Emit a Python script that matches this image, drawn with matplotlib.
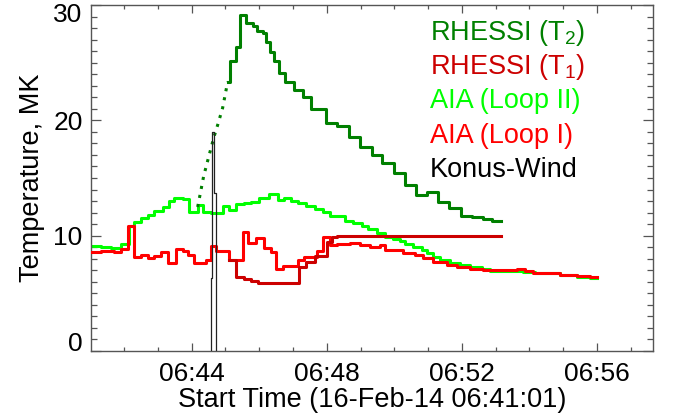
import matplotlib
matplotlib.use("Agg")
import matplotlib.pyplot as plt
import matplotlib.ticker as mticker
import matplotlib.transforms as mtransforms
import numpy as np

plt.rcParams["font.family"] = ["Liberation Sans", "DejaVu Sans"]
plt.rcParams["mathtext.fontset"] = "custom"
plt.rcParams["mathtext.rm"] = "Liberation Sans"
plt.rcParams["mathtext.it"] = "Liberation Sans"

# ── Data (time = minutes after 06:40 UT, temperature in MK) ─────────────────

T_START = 1.017   # 06:41:01
T_STOP = 17.66

# AIA loop II: step start times / values
aia2_t = [1.017, 1.310, 1.606, 1.901, 2.138, 2.286, 2.492, 2.699, 2.877, 3.143,
          3.320, 3.468, 3.734, 3.911, 4.177, 4.325, 4.562, 4.916, 5.094, 5.301,
          5.537, 5.744, 5.980, 6.276, 6.542, 6.720, 6.926, 7.133, 7.370, 7.665,
          7.902, 8.109, 8.552, 8.789, 9.055, 9.232, 9.498, 9.735, 9.971, 10.178,
          10.326, 10.562, 10.828, 10.976, 11.153, 11.360, 11.656, 11.951, 12.247, 12.602,
          12.838, 13.814, 14.169, 14.908, 15.410, 15.794]
aia2_T = [9.11, 9.02, 8.93, 9.28, 10.84, 11.19, 11.54, 11.80, 12.14, 12.49,
          13.01, 13.27, 13.18, 12.06, 12.66, 12.06, 11.97, 12.58, 12.23, 12.75,
          12.84, 12.92, 13.27, 13.62, 13.10, 13.27, 13.01, 12.84, 12.58, 12.32,
          12.06, 11.71, 11.27, 11.10, 10.84, 10.58, 10.23, 9.89, 9.71, 9.54,
          9.28, 9.02, 8.76, 8.50, 8.15, 7.89, 7.63, 7.46, 7.29, 7.11,
          6.94, 6.85, 6.77, 6.59, 6.42, 6.33]
aia2_end = 16.0

# AIA loop I
aia1_t = [1.017, 1.310, 1.694, 1.901, 2.108, 2.286, 2.492, 2.699, 2.877, 3.084,
          3.291, 3.527, 3.734, 3.882, 4.059, 4.414, 4.562, 4.709, 5.094, 5.508,
          5.655, 5.892, 6.128, 6.335, 6.483, 6.690, 7.133, 7.311, 7.724, 7.902,
          8.109, 8.316, 8.700, 8.996, 9.291, 9.587, 9.735, 10.267, 10.621, 10.858,
          11.153, 11.567, 11.863, 12.247, 12.631, 13.636, 13.873, 14.109, 14.908, 15.410,
          15.794]
aia1_T = [8.59, 8.67, 8.59, 8.85, 10.84, 8.15, 8.33, 8.07, 8.24, 8.59,
          7.63, 8.85, 8.67, 8.33, 7.63, 7.89, 9.11, 8.67, 7.89, 10.32,
          9.37, 9.80, 8.93, 8.59, 7.11, 7.37, 7.89, 8.15, 8.67, 9.89,
          9.19, 9.28, 9.37, 9.19, 9.02, 9.19, 8.76, 8.50, 8.33, 8.07,
          7.72, 7.46, 7.29, 7.11, 7.03, 7.11, 6.94, 6.77, 6.59, 6.50,
          6.42]
aia1_end = 16.0

# RHESSI T1
t1_t = [5.094, 5.301, 5.537, 5.744, 5.951, 7.163, 7.370, 7.665, 8.020, 8.168, 8.316]
t1_T = [7.89, 6.42, 6.24, 6.07, 5.90, 7.29, 7.72, 8.24, 9.45, 9.89, 9.97]
t1_end = 13.163

# RHESSI T2: dotted rise, then steps
t2_rise_t = [4.177, 4.355, 4.503, 4.650, 4.769, 4.916, 5.064]
t2_rise_T = [12.49, 15.18, 16.83, 18.47, 19.60, 21.08, 23.33]
t2_t = [5.064, 5.123, 5.301, 5.419, 5.596, 5.803, 5.921, 6.099, 6.187, 6.306,
        6.424, 6.572, 6.749, 7.015, 7.281, 7.547, 7.991, 8.316, 8.670, 8.996,
        9.350, 9.646, 10.001, 10.326, 10.651, 10.976, 11.301, 11.626, 11.981, 12.306,
        12.631, 12.897]
t2_T = [23.33, 25.15, 26.37, 29.14, 28.45, 28.19, 27.75, 27.58, 26.80, 25.93,
        25.15, 24.11, 23.33, 22.64, 22.03, 20.99, 19.77, 19.51, 18.56, 17.69,
        17.00, 16.31, 15.44, 14.40, 13.53, 13.79, 12.92, 12.40, 11.71, 11.62,
        11.45, 11.27]
t2_end = 13.163

# Konus-Wind spike
konus_t = [4.562, 4.591, 4.659]
konus_T = [6.3, 19.0, 13.7]
konus_end = 4.709

xtick_pos = [4, 8, 12, 16]
xtick_labels = ["06:44", "06:48", "06:52", "06:56"]

DKGREEN = "#008000"
DKRED = "#cc0000"
LIME = "#00ff00"
RED = "#ff0000"
FS = 19.5


def steps(t, v, end):
    return list(t) + [end], list(v) + [v[-1]]


fig = plt.figure(figsize=(6.78, 4.18), dpi=100)
ax = fig.add_axes([0.1342, 0.1603, 0.8289, 0.8278])

lw = 2.2
x, y = steps(aia2_t, aia2_T, aia2_end)
ax.step(x, y, where="post", color=LIME, lw=lw, zorder=2)
x, y = steps(aia1_t, aia1_T, aia1_end)
ax.step(x, y, where="post", color=RED, lw=lw, zorder=3)
x, y = steps(t1_t, t1_T, t1_end)
ax.step(x, y, where="post", color=DKRED, lw=lw, zorder=4)
ax.plot(t2_rise_t, t2_rise_T, color=DKGREEN, lw=lw, ls=(0, (1, 2)), zorder=5)
x, y = steps(t2_t, t2_T, t2_end)
ax.step(x, y, where="post", color=DKGREEN, lw=lw, zorder=5)

kx = [konus_t[0]] + list(konus_t) + [konus_end, konus_end]
ky = [0] + list(konus_T) + [konus_T[-1], 0]
ax.step(kx, ky, where="post", color="#222222", lw=0.9, zorder=6)

ax.set_xlim(T_START, T_STOP)
ax.set_ylim(0, 30)

ax.set_xticks(xtick_pos, labels=xtick_labels)
ax.xaxis.set_minor_locator(mticker.MultipleLocator(1))
ax.set_yticks([0, 10, 20, 30], labels=["0", "10", "20", "30"])
ax.yaxis.set_minor_locator(mticker.MultipleLocator(1))

axcol = "#555555"
for sp in ax.spines.values():
    sp.set_color(axcol)
    sp.set_linewidth(1.0)
ax.tick_params(axis="both", which="both", direction="in", top=True, right=True,
               colors=axcol, labelcolor="black", labelsize=19, width=0.9)
ax.tick_params(axis="x", which="major", length=5.5, pad=8)
ax.tick_params(axis="x", which="minor", length=3)
ax.tick_params(axis="y", which="major", length=7.5, pad=6)
ax.tick_params(axis="y", which="minor", length=4)

# IDL keeps end labels inside the axis range
yticks = ax.yaxis.get_major_ticks()
yticks[0].label1.set_transform(yticks[0].label1.get_transform() +
                               mtransforms.ScaledTranslation(0, 9 / 100, fig.dpi_scale_trans))
yticks[-1].label1.set_transform(yticks[-1].label1.get_transform() +
                                mtransforms.ScaledTranslation(0, -8 / 100, fig.dpi_scale_trans))

ax.set_xlabel("Start Time (16-Feb-14 06:41:01)", fontsize=FS, labelpad=1)
ax.set_ylabel("Temperature, MK", fontsize=FS, labelpad=6)

legend_items = [
    ("RHESSI (T$_2$)", DKGREEN),
    ("RHESSI (T$_1$)", DKRED),
    ("AIA (Loop II)", LIME),
    ("AIA (Loop I)", RED),
    ("Konus-Wind", "black"),
]
for i, (txt, col) in enumerate(legend_items):
    ax.text(0.603, 0.899 - i * 0.099, txt, color=col, fontsize=FS,
            transform=ax.transAxes, ha="left", va="baseline")

fig.savefig("out.png", dpi=100)
